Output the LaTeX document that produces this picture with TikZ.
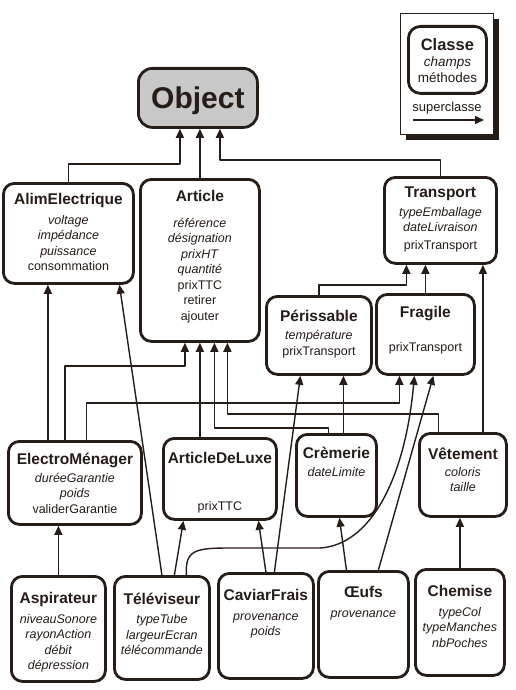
\documentclass[tikz,border=0pt]{standalone}
\usepackage{fontspec}
\setmainfont{Liberation Sans}
\usetikzlibrary{arrows.meta,shadows}
\definecolor{ink}{RGB}{38,28,24}
\definecolor{objgris}{RGB}{200,200,200}
\newcommand{\titre}{\bfseries\fontsize{15.5}{17}\selectfont}
\newcommand{\champ}{\fontsize{12.5}{15.5}\selectfont}
\begin{document}
\begin{tikzpicture}[x=1pt,y=-1pt,line join=round,
    inh/.style={-{Triangle[length=9pt,width=8pt]},line width=1.4pt,draw=ink},
    classbox/.style={draw=ink,line width=2.8pt,rounded corners=11pt,fill=white,anchor=north west,inner sep=0pt},
    classtext/.style={anchor=north,align=center,inner sep=0pt,font=\champ,text=ink}]
  \useasboundingbox (0,0) rectangle (515,690);

  % legende
  \node[draw=ink,line width=1.1pt,fill=white,minimum width=93pt,minimum height=121pt,anchor=north west,
        drop shadow={shadow xshift=5pt,shadow yshift=-5pt,fill=ink,opacity=1}] (leg) at (400,13) {};
  \node[classbox,minimum width=78pt,minimum height=67pt,rounded corners=12pt] (legcls) at (407,25) {};
  \node[classtext,font=\fontsize{13.5}{15.5}\selectfont] (legcls-t) at (legcls.north |- 0,38)
    {{\bfseries\fontsize{16.5}{18}\selectfont Classe}\\[1pt] \textit{champs}\\ méthodes};
  \node[text=ink,font=\fontsize{13}{15}\selectfont] (legsup) at (447,108) {superclasse};
  \coordinate (legA) at (413,120);
  \coordinate (legB) at (484,120);
  \draw[inh] (legA) -- (legB);

  % classes
  \node[classbox,fill=objgris,minimum width=119pt,minimum height=59pt,rounded corners=14pt,
        font=\bfseries\fontsize{30}{32}\selectfont,text=ink,text depth=0pt] (obj) at (137,67) {Object};

  \node[classbox,minimum width=130pt,minimum height=100pt] (alim) at (2,182) {};
  \node[classbox,minimum width=119pt,minimum height=162pt] (art) at (139,178) {};
  \node[classbox,minimum width=112pt,minimum height=86pt] (trans) at (383,176) {};
  \node[classbox,minimum width=105pt,minimum height=78pt] (peri) at (265,295) {};
  \node[classbox,minimum width=98pt,minimum height=80pt] (frag) at (375,293) {};
  \node[classbox,minimum width=133pt,minimum height=83pt] (elec) at (7,440) {};
  \node[classbox,minimum width=113pt,minimum height=81pt] (lux) at (162,437) {};
  \node[classbox,minimum width=80pt,minimum height=82pt] (crem) at (295,433) {};
  \node[classbox,minimum width=87pt,minimum height=83pt] (vet) at (418,432) {};
  \node[classbox,minimum width=94pt,minimum height=105pt] (aspi) at (10,575) {};
  \node[classbox,minimum width=95pt,minimum height=103pt] (tele) at (113,575) {};
  \node[classbox,minimum width=95pt,minimum height=105pt] (cav) at (217,572) {};
  \node[classbox,minimum width=90pt,minimum height=106pt] (oeuf) at (317,570) {};
  \node[classbox,minimum width=89pt,minimum height=106pt] (chem) at (414,568) {};

  \node[classtext] (alim-t) at (alim.north |- 0,193.5)
    {{\titre AlimElectrique}\\[4pt] \textit{voltage}\\ \textit{impédance}\\ \textit{puissance}\\ consommation};
  \node[classtext] (art-t) at (art.north |- 0,190.5)
    {{\titre Article}\\[10pt] \textit{référence}\\ \textit{désignation}\\ \textit{prixHT}\\ \textit{quantité}\\ prixTTC\\ retirer\\ ajouter};
  \node[classtext] (trans-t) at (trans.north |- 0,186.5)
    {{\titre Transport}\\[3.5pt] \textit{typeEmballage}\\ \textit{dateLivraison}\\[2.5pt] prixTransport};
  \node[classtext] (peri-t) at (peri.north |- 0,309.5)
    {{\titre Périssable}\\[3pt] \textit{température}\\ prixTransport};
  \node[classtext] (frag-t) at (frag.north |- 0,306.5)
    {{\titre Fragile}\\[18pt] prixTransport};
  \node[classtext] (elec-t) at (elec.north |- 0,452.5)
    {{\titre ElectroMénager}\\[2.5pt] \textit{duréeGarantie}\\ \textit{poids}\\ validerGarantie};
  \node[classtext] (lux-t) at (lux.north |- 0,452.5)
    {{\titre ArticleDeLuxe}\\[31.5pt] prixTTC};
  \node[classtext] (crem-t) at (crem.north |- 0,446.5)
    {{\titre Crèmerie}\\[2.5pt] \textit{dateLimite}};
  \node[classtext] (vet-t) at (vet.north |- 0,447.5)
    {{\titre Vêtement}\\[1.5pt] \textit{coloris}\\ \textit{taille}};
  \node[classtext] (aspi-t) at (aspi.north |- 0,592.5)
    {{\titre Aspirateur}\\[4pt] \textit{niveauSonore}\\ \textit{rayonAction}\\ \textit{débit}\\ \textit{dépression}};
  \node[classtext] (tele-t) at (tele.north |- 0,592.5)
    {{\titre Téléviseur}\\[4pt] \textit{typeTube}\\ \textit{largeurEcran}\\ \textit{télécommande}};
  \node[classtext] (cav-t) at (cav.north |- 0,589.5)
    {{\titre CaviarFrais}\\[4pt] \textit{provenance}\\ \textit{poids}};
  \node[classtext] (oeuf-t) at (oeuf.north |- 0,586.5)
    {{\titre Œufs}\\[4pt] \textit{provenance}};
  \node[classtext] (chem-t) at (chem.north |- 0,585.5)
    {{\titre Chemise}\\[4pt] \textit{typeCol}\\ \textit{typeManches}\\ \textit{nbPoches}};

  % heritage
  \draw[inh] (alim.north) -- ++(0,-18) -| ([xshift=-18pt]obj.south);
  \draw[inh] (art.north) -- (art.north |- obj.south);
  \draw[inh] (trans.north) -- ++(0,-16) -| ([xshift=22pt]obj.south);

  \draw[inh] ([xshift=-27pt]elec.north) -- ([xshift=-27pt]elec.north |- alim.south);
  \draw[inh] (tele.north) -- ([xshift=51pt]alim.south);

  \draw[inh] ([xshift=-10pt]elec.north) -- ++(0,-74) -| ([xshift=-15pt]art.south);
  \draw[inh] ([xshift=-20pt]lux.north) -- ([xshift=-20pt]lux.north |- art.south);
  \draw[inh] ([xshift=-8pt]crem.north) -- ++(0,-5) -| ([xshift=14.5pt]art.south);
  \draw[inh] ([xshift=-24.5pt]vet.north) -- ++(0,-18) -| ([xshift=27.5pt]art.south);

  \draw[inh] ([xshift=11.5pt]elec.north) -- ++(0,-37) -| ([xshift=-26pt]frag.south);
  \draw[inh] ([xshift=24.5pt]tele.north) .. controls (185,550) and (195,548) .. (230,548)
    -- (320,548) .. controls (370,545) and (405,480) .. ([xshift=-11pt]frag.south);
  \draw[inh] ([xshift=15pt]oeuf.north) -- ([xshift=8pt]frag.south);

  \draw[inh] (peri.north) -- ++(0,-10) -| ([xshift=-34pt]trans.south);
  \draw[inh] (frag.north) -- (frag.north |- trans.south);
  \draw[inh] ([xshift=20pt]vet.north) -- ([xshift=20pt]vet.north |- trans.south);

  \draw[inh] ([xshift=7pt]crem.north) -- ([xshift=7pt]crem.north |- peri.south);
  \draw[inh] ([xshift=8.5pt]cav.north) -- ([xshift=-18.5pt]peri.south);
  \draw[inh] ([xshift=12.5pt]tele.north) -- ([xshift=-36.5pt]lux.south);
  \draw[inh] (cav.north) -- ([xshift=38.5pt]lux.south);
  \draw[inh] ([xshift=-17pt]oeuf.north) -- ([xshift=3pt]crem.south);
  \draw[inh] (chem.north) -- (chem.north |- vet.south);
  \draw[inh] (aspi.north) -- (aspi.north |- elec.south);
\end{tikzpicture}
\end{document}
